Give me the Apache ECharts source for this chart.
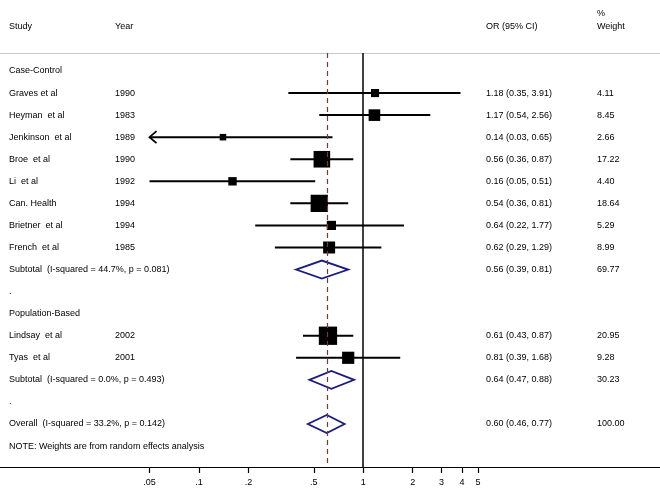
<!DOCTYPE html>
<html><head><meta charset="utf-8">
<script src="https://cdn.jsdelivr.net/npm/echarts@6/dist/echarts.min.js"></script>
<style>html,body{margin:0;padding:0;background:#fff}#c{width:660px;height:488px}</style>
</head><body><div id="c"></div>
<script>
// ---- data ----
const studies = ['Graves et al', 'Heyman  et al', 'Jenkinson  et al', 'Broe  et al', 'Li  et al', 'Can. Health', 'Brietner  et al', 'French  et al', 'Lindsay  et al', 'Tyas  et al'];
const years = ['1990', '1983', '1989', '1990', '1992', '1994', '1994', '1985', '2002', '2001'];
const orVals = [1.18, 1.17, 0.14, 0.56, 0.16, 0.54, 0.64, 0.62, 0.61, 0.81];
const ciLow = [0.35, 0.54, 0.03, 0.36, 0.05, 0.36, 0.22, 0.29, 0.43, 0.39];
const ciHigh = [3.91, 2.56, 0.65, 0.87, 0.51, 0.81, 1.77, 1.29, 0.87, 1.68];
const weights = ['4.11', '8.45', '2.66', '17.22', '4.40', '18.64', '5.29', '8.99', '20.95', '9.28'];
const studyRows = [1, 2, 3, 4, 5, 6, 7, 8, 12, 13];

const poolLabels = ['Subtotal  (I-squared = 44.7%, p = 0.081)', 'Subtotal  (I-squared = 0.0%, p = 0.493)', 'Overall  (I-squared = 33.2%, p = 0.142)'];
const poolOR = [0.56, 0.64, 0.60];
const poolLow = [0.39, 0.47, 0.46];
const poolHigh = [0.81, 0.88, 0.77];
const poolWeights = ['69.77', '30.23', '100.00'];
const poolRows = [9, 14, 16];

const otherLabels = ['Case-Control', '.', 'Population-Based', '.', 'NOTE: Weights are from random effects analysis'];
const otherRows = [0, 10, 11, 15, 17];

const tickValues = [0.05, 0.1, 0.2, 0.5, 1, 2, 3, 4, 5];
const tickLabels = ['.05', '.1', '.2', '.5', '1', '2', '3', '4', '5'];
const nullValue = 1;
const overallOR = 0.60;

// ---- chart ----
const FONT = '"Liberation Sans", Arial, Helvetica, sans-serif';
const clipMin = tickValues[0], clipMax = tickValues[tickValues.length - 1];
const chart = echarts.init(document.getElementById('c'), null, { renderer: 'canvas' });

const ciData = studyRows.map((r, i) => [ciLow[i], ciHigh[i], r]);
const sqData = studyRows.map((r, i) => [orVals[i], r, weights[i]]);
const dmData = poolRows.map((r, i) => [poolOR[i], poolLow[i], poolHigh[i], r]);

const option = {
  animation: false,
  backgroundColor: '#fff',
  grid: { left: 0, right: 0, top: 53, bottom: 21 },
  xAxis: [{
    type: 'log', logBase: 10, min: 0.006146, max: 64.1,
    axisLine: { show: true, onZero: false, lineStyle: { color: '#000', width: 1.2 } },
    axisTick: { show: true, customValues: tickValues, length: 6, lineStyle: { color: '#000', width: 1.2 } },
    axisLabel: {
      show: true, customValues: tickValues, fontSize: 9, fontFamily: FONT, color: '#000', margin: 11,
      formatter: v => { const k = tickValues.findIndex(t => Math.abs(t - v) < 1e-9); return k >= 0 ? tickLabels[k] : ''; }
    },
    splitLine: { show: false }
  }, {
    type: 'value', position: 'top', min: 0, max: 1,
    axisLine: { show: true, onZero: false, lineStyle: { color: '#c8c8c8', width: 1 } },
    axisTick: { show: false }, axisLabel: { show: false }, splitLine: { show: false }
  }],
  yAxis: { type: 'value', inverse: true, min: -0.816, max: 17.95, show: false },
  series: [
    {
      type: 'line', data: [], z: 1, silent: true,
      markLine: {
        symbol: 'none', silent: true, label: { show: false }, animation: false,
        data: [
          { xAxis: nullValue, lineStyle: { color: '#000', width: 1.5, type: 'solid' } },
          { xAxis: overallOR, lineStyle: { color: '#a82222', width: 1.2, type: [5, 4] } }
        ]
      }
    },
    {
      type: 'custom', z: 2, silent: true,
      data: ciData,
      encode: { x: [0, 1], y: 2 },
      renderItem: (params, api) => {
        const lo = api.value(0), hi = api.value(1), row = api.value(2);
        const a = api.coord([Math.max(lo, clipMin), row]);
        const b = api.coord([Math.min(hi, clipMax), row]);
        const children = [{ type: 'line', shape: { x1: a[0], y1: a[1], x2: b[0], y2: b[1] }, style: { stroke: '#000', lineWidth: 2 } }];
        if (lo < clipMin) {
          children.push({ type: 'polyline', shape: { points: [[a[0] + 7, a[1] - 6], [a[0], a[1]], [a[0] + 7, a[1] + 6]] }, style: { stroke: '#000', lineWidth: 1.8, fill: null } });
        }
        return { type: 'group', children };
      }
    },
    {
      type: 'scatter', z: 3, silent: true,
      data: sqData,
      symbol: 'rect',
      symbolSize: v => 4.0 * Math.sqrt(parseFloat(v[2])),
      itemStyle: { color: '#000', opacity: 1 }
    },
    {
      type: 'custom', z: 4, silent: true,
      data: dmData,
      encode: { x: [0, 1, 2], y: 3 },
      renderItem: (params, api) => {
        const or = api.value(0), lo = api.value(1), hi = api.value(2), row = api.value(3);
        const c = api.coord([or, row]);
        const l = api.coord([lo, row]);
        const h = api.coord([hi, row]);
        return {
          type: 'polygon',
          shape: { points: [[l[0], l[1]], [c[0], c[1] - 9], [h[0], h[1]], [c[0], c[1] + 9]] },
          style: { stroke: '#1c1c7c', lineWidth: 1.8, fill: 'rgba(255,255,255,0)' }
        };
      }
    }
  ]
};
chart.setOption(option);

// ---- text columns ----
const colStudy = 9, colYear = 115, colOR = 486, colW = 597;
const yOf = r => chart.convertToPixel({ yAxisIndex: 0 }, r);
const fmt = v => v.toFixed(2);
const texts = [];
function addText(x, row, s) {
  texts.push({ type: 'text', x: x, y: yOf(row), silent: true,
    style: { text: s, fill: '#000', font: '9px ' + FONT, textAlign: 'left', textVerticalAlign: 'middle' } });
}
addText(colStudy, -2, 'Study');
addText(colYear, -2, 'Year');
addText(colOR, -2, 'OR (95% CI)');
addText(colW, -2.62, '%');
addText(colW, -2, 'Weight');
otherRows.forEach((r, i) => addText(colStudy, r, otherLabels[i]));
studyRows.forEach((r, i) => {
  addText(colStudy, r, studies[i]);
  addText(colYear, r, years[i]);
  addText(colOR, r, fmt(orVals[i]) + ' (' + fmt(ciLow[i]) + ', ' + fmt(ciHigh[i]) + ')');
  addText(colW, r, weights[i]);
});
poolRows.forEach((r, i) => {
  addText(colStudy, r, poolLabels[i]);
  addText(colOR, r, fmt(poolOR[i]) + ' (' + fmt(poolLow[i]) + ', ' + fmt(poolHigh[i]) + ')');
  addText(colW, r, poolWeights[i]);
});
chart.setOption({ graphic: texts });
</script>
</body></html>
